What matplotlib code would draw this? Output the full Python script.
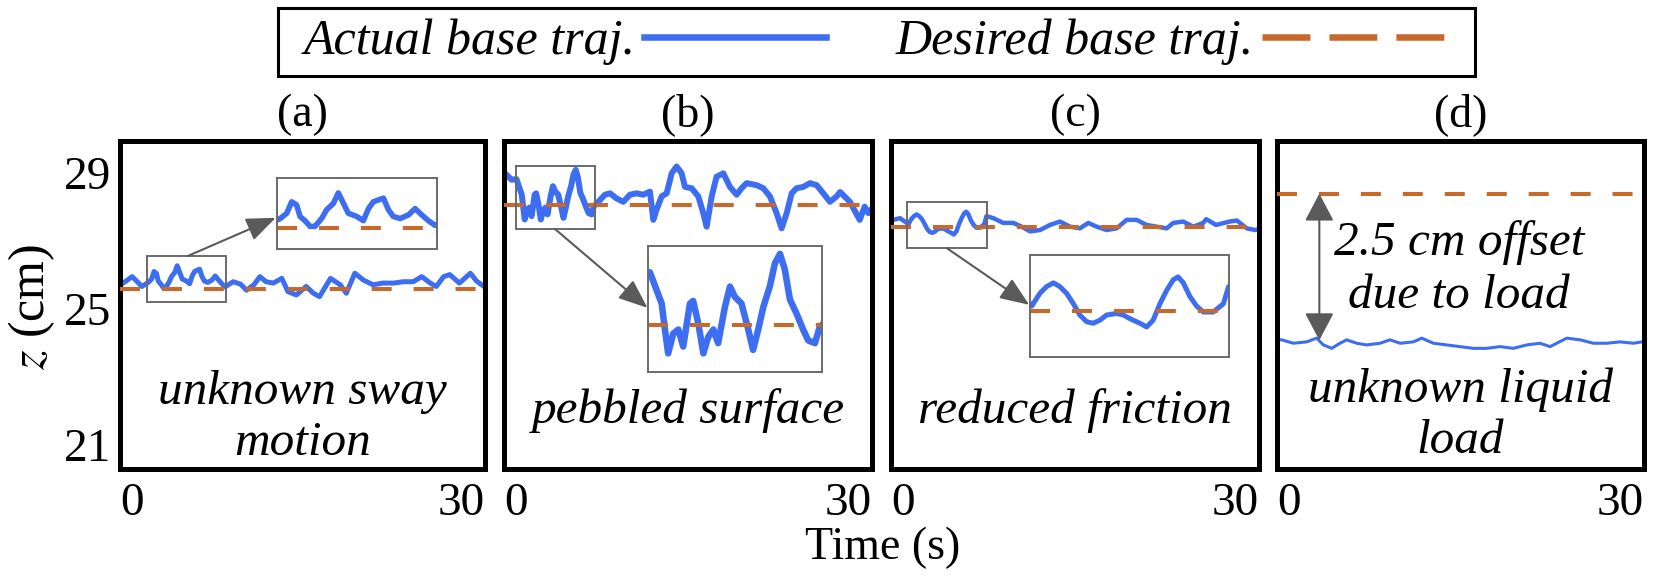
import matplotlib.pyplot as plt
from matplotlib.lines import Line2D
from matplotlib.patches import Rectangle

plt.rcParams['font.family'] = ['Liberation Serif', 'DejaVu Serif']
plt.rcParams['mathtext.fontset'] = 'stix'
plt.rcParams['lines.scale_dashes'] = False

BLUE = '#3d6ef2'
ORANGE = '#c8692c'
GRAY = '#5a5a5a'
BOX_GRAY = '#6a6a6a'

panel_tags = ['(a)', '(b)', '(c)', '(d)']
panel_notes = ['unknown sway\nmotion', 'pebbled surface', 'reduced friction', 'unknown liquid\nload']

# base height traces (time in s, z in cm)
t_a = [0.0, 0.5, 1.0, 1.8, 2.33, 2.6, 2.8, 3.0, 3.14, 3.34, 3.55, 3.75, 4.02, 4.23, 4.5, 4.7, 4.91,
       5.11, 5.45, 5.72, 5.93, 6.13, 6.54, 6.74, 6.94, 7.22, 7.56, 7.83, 8.1, 8.37, 8.64, 9.3, 9.9,
       10.4, 11.0, 11.5, 12.0, 12.6, 13.3, 13.8, 14.5, 15.3, 15.9, 16.4, 17.3, 18.1, 18.6, 19.3,
       20.0, 20.8, 21.6, 22.5, 23.3, 24.1, 24.8, 25.5, 26.0, 26.6, 27.1, 27.9, 28.8, 29.3, 30.0]
z_a = [25.70, 25.82, 25.95, 25.66, 25.78, 25.88, 26.10, 26.04, 25.82, 25.74, 25.63, 25.63, 25.78,
       25.95, 26.07, 26.27, 26.07, 25.88, 25.82, 25.74, 25.97, 26.10, 26.17, 25.95, 25.82, 25.78,
       25.85, 25.97, 25.85, 25.74, 25.65, 25.80, 25.73, 25.55, 25.71, 25.95, 25.80, 25.76, 25.90,
       25.51, 25.41, 25.66, 25.46, 25.36, 25.90, 25.71, 25.46, 26.05, 25.85, 25.71, 25.76, 25.76,
       25.80, 25.80, 25.95, 25.76, 25.66, 25.95, 26.01, 25.76, 26.05, 25.82, 25.64]

t_b = [0.0, 0.22, 0.62, 1.01, 1.26, 1.45, 1.57, 1.69, 1.88, 2.07, 2.25, 2.5, 2.62, 2.81, 3.0, 3.18,
       3.37, 3.55, 3.8, 3.99, 4.17, 4.42, 4.67, 4.85, 5.04, 5.23, 5.47, 5.66, 5.85, 6.03, 6.22, 6.47,
       6.71, 6.9, 7.15, 7.33, 7.82, 8.23, 8.64, 9.18, 9.72, 10.27, 10.81, 11.35, 11.9, 12.17, 12.44,
       12.85, 13.26, 13.67, 14.07, 14.48, 14.75, 15.3, 15.84, 16.25, 16.52, 16.93, 17.33, 17.88,
       18.42, 18.97, 19.37, 19.78, 20.6, 21.14, 21.68, 22.23, 22.63, 23.04, 23.45, 23.85, 24.4,
       24.94, 25.49, 26.03, 26.57, 27.12, 27.4, 28.2, 29.0, 29.4, 29.7, 30.0]
z_b = [29.02, 28.94, 28.80, 28.82, 28.56, 28.36, 27.98, 27.63, 27.92, 27.98, 27.73, 28.36, 28.40,
       28.07, 27.63, 27.87, 27.98, 27.78, 28.31, 28.61, 28.46, 28.36, 27.98, 27.68, 27.98, 28.31,
       28.61, 28.95, 29.09, 28.86, 28.42, 28.21, 27.98, 27.82, 27.78, 28.02, 28.20, 28.36, 28.40,
       28.25, 28.15, 28.36, 28.40, 28.36, 28.45, 27.62, 27.92, 28.31, 28.40, 28.99, 29.19, 28.99,
       28.59, 28.55, 28.31, 27.81, 27.42, 28.31, 28.89, 28.99, 28.59, 28.36, 28.55, 28.70, 28.64,
       28.55, 28.31, 27.81, 27.37, 27.81, 28.40, 28.55, 28.59, 28.70, 28.64, 28.40, 28.15, 28.31,
       28.44, 28.15, 27.62, 28.01, 27.82, 27.95]

t_c = [0.0, 0.19, 0.73, 1.28, 1.39, 1.65, 1.87, 2.09, 2.3, 2.52, 2.74, 2.95, 3.17, 3.38, 3.6, 3.82,
       4.14, 4.36, 4.58, 4.9, 5.12, 5.33, 5.55, 5.77, 5.98, 6.14, 6.31, 6.52, 6.74, 6.96, 7.17, 7.28,
       7.61, 7.78, 8.34, 9.15, 9.97, 10.65, 11.33, 12.14, 12.96, 13.77, 14.59, 15.4, 16.08, 16.76,
       17.58, 18.39, 19.21, 20.02, 20.84, 21.65, 22.47, 23.01, 23.82, 24.64, 25.45, 25.7, 26.5,
       27.6, 28.2, 29.0, 29.7, 30.0]
z_c = [27.60, 27.62, 27.67, 27.53, 27.47, 27.64, 27.73, 27.78, 27.73, 27.64, 27.50, 27.35, 27.26,
       27.24, 27.28, 27.35, 27.37, 27.35, 27.30, 27.24, 27.19, 27.28, 27.50, 27.68, 27.82, 27.86,
       27.78, 27.60, 27.47, 27.39, 27.39, 27.39, 27.50, 27.73, 27.67, 27.53, 27.53, 27.42, 27.28,
       27.32, 27.47, 27.57, 27.42, 27.37, 27.53, 27.42, 27.32, 27.37, 27.62, 27.62, 27.47, 27.42,
       27.37, 27.53, 27.57, 27.42, 27.53, 27.64, 27.47, 27.57, 27.60, 27.37, 27.32, 27.36]

t_d = [0.0, 0.38, 1.34, 2.43, 3.24, 3.79, 4.47, 5.15, 5.7, 6.51, 7.33, 8.42, 9.24, 10.06, 11.15,
       11.83, 12.78, 13.88, 14.96, 16.05, 17.15, 18.23, 19.32, 20.42, 21.5, 22.32, 22.87, 23.69,
       24.78, 25.86, 26.96, 28.05, 29.13, 29.82, 30.0]
z_d = [24.09, 24.09, 23.99, 24.03, 24.14, 23.94, 23.84, 23.99, 24.09, 23.99, 23.94, 23.99, 24.09,
       23.99, 24.03, 24.14, 23.99, 23.94, 23.89, 23.84, 23.84, 23.89, 23.84, 23.94, 23.99, 23.89,
       23.99, 24.14, 24.09, 23.99, 23.99, 24.03, 23.99, 24.03, 24.03]

desired_z = [25.60, 28.05, 27.41, 28.39]
times = [t_a, t_b, t_c, t_d]
actual = [z_a, z_b, z_c, z_d]

# zoomed window (t0, t1, z0, z1) and where its inset sits (t, z, width, height)
zoom_windows = [(2.19, 8.71, 25.19, 26.56), (0.95, 7.42, 27.35, 29.21), (1.33, 7.80, 26.79, 28.15)]
inset_places = [(12.88, 26.75, 13.15, 2.11), (11.76, 23.13, 14.18, 3.73), (11.33, 23.59, 16.24, 2.99)]
arrow_from = [(5.59, 26.56), (4.16, 27.35), (4.54, 26.79)]
arrow_to = [(12.8, 27.68), (11.7, 25.03), (11.27, 25.12)]

line_widths = [3.6, 4.3, 3.2, 2.2]
note_y = [0.043, 0.140, 0.140, 0.049]
lefts = [120, 504, 891, 1277]
widths = [365, 368, 368, 367]

fig = plt.figure(figsize=(16.56, 5.82), dpi=100)

for i in range(4):
    ax = fig.add_axes([lefts[i] / 1656, 1 - 469 / 582, widths[i] / 1656, 328 / 582])
    ax.plot(times[i], actual[i], color=BLUE, lw=line_widths[i], solid_joinstyle='round', zorder=2)
    ax.axhline(desired_z[i], color=ORANGE, lw=2.9, dashes=(14.4, 15.8), zorder=3)
    ax.set_xlim(0, 30)
    ax.set_ylim(20.29, 29.94)
    for s in ax.spines.values():
        s.set_linewidth(3.6)
        s.set_color('black')

    ax.set_xticks([0, 30])
    ax.set_xticklabels(['0', '30'], fontsize=34)
    xl = ax.get_xticklabels()
    xl[0].set_ha('left')
    xl[1].set_ha('right')
    ax.tick_params(axis='x', length=0, pad=10)
    if i == 0:
        ax.set_yticks([29, 25, 21])
        ax.set_yticklabels(['29', '25', '21'], fontsize=34)
        for lab in ax.get_yticklabels():
            lab.set_va('center_baseline')
        ax.tick_params(axis='y', length=0, pad=6)
    else:
        ax.set_yticks([])

    ax.set_title(panel_tags[i], fontsize=33, pad=11)
    ax.text(0.5, note_y[i], panel_notes[i], transform=ax.transAxes, ha='center', va='baseline',
            fontsize=35.5, style='italic', linespacing=1.2)

    if i < 3:
        t0, t1, z0, z1 = zoom_windows[i]
        ax.add_patch(Rectangle((t0, z0), t1 - t0, z1 - z0, fill=False, ec=BOX_GRAY, lw=1.4, zorder=4))
        ins = ax.inset_axes(inset_places[i], transform=ax.transData)
        ins.plot(times[i], actual[i], color=BLUE, lw=line_widths[i] + 0.4, solid_joinstyle='round')
        ins.axhline(desired_z[i], color=ORANGE, lw=2.9, dashes=(14.4, 15.8))
        ins.set_xlim(t0, t1)
        ins.set_ylim(z0, z1)
        ins.set_xticks([])
        ins.set_yticks([])
        for s in ins.spines.values():
            s.set_linewidth(1.4)
            s.set_color(BOX_GRAY)
        ax.annotate('', xy=arrow_to[i], xytext=arrow_from[i],
                    arrowprops=dict(arrowstyle='-|>,head_length=0.9,head_width=0.36',
                                    mutation_scale=20, color=GRAY, lw=1.5,
                                    shrinkA=0, shrinkB=0), zorder=5)
    else:
        ax.annotate('', xy=(3.46, desired_z[i]), xytext=(3.46, 24.08),
                    arrowprops=dict(arrowstyle='<|-|>,head_length=0.85,head_width=0.45',
                                    mutation_scale=20, color=GRAY, lw=1.5,
                                    shrinkA=0, shrinkB=0), zorder=5)
        ax.text(14.9, 25.03, '2.5 cm offset\ndue to load', ha='center', va='baseline',
                fontsize=35.5, style='italic', linespacing=1.25)

fig.text(32 / 1656, 1 - 307 / 582, r'$z$ (cm)', rotation=90, ha='center', va='center', fontsize=36)
fig.text(883 / 1656, 1 - 548 / 582, 'Time (s)', ha='center', va='center', fontsize=33)

# legend: frame drawn as its own box, entries laid out by the legend
fig.patches.append(Rectangle((278 / 1656, 1 - 76 / 582), 1197 / 1656, 68 / 582, fill=False,
                             ec='black', lw=2.2, transform=fig.transFigure, figure=fig))
handles = [Line2D([], [], color=BLUE, lw=4.7),
           Line2D([], [], color=ORANGE, lw=4.7, dashes=(34.5, 13.7))]
fig.legend(handles, ['Actual base traj.', 'Desired base traj.'], loc='center',
           bbox_to_anchor=(874 / 1656, 1 - 42 / 582), ncol=2, markerfirst=False,
           prop={'style': 'italic', 'size': 36}, handlelength=3.64, handletextpad=0.16,
           columnspacing=1.4, borderpad=0.1, frameon=False)

fig.savefig('out.png', dpi=100)
